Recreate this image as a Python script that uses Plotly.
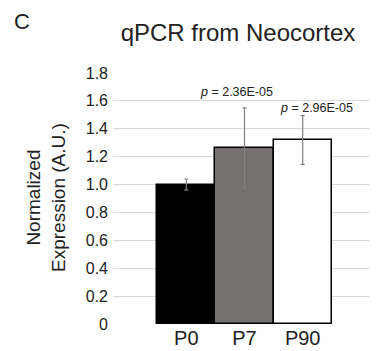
import plotly.graph_objects as go

categories = ["P0", "P7", "P90"]
values = [1.0, 1.26, 1.32]
errors = [0.04, 0.29, 0.175]
bar_colors = ["#000000", "#767171", "#ffffff"]
p_labels = ["<i>p</i> = 2.36E-05", "<i>p</i> = 2.96E-05"]
p_targets = ["P7", "P90"]
y_ticks = [0, 0.2, 0.4, 0.6, 0.8, 1.0, 1.2, 1.4, 1.6, 1.8]
y_ticktext = ["0", "0.2", "0.4", "0.6", "0.8", "1.0", "1.2", "1.4", "1.6", "1.8"]

font = "Liberation Sans, Arial, sans-serif"
txt = "#222222"

# page body adds an 8px offset; figure sized to fill the rest of the window
W, H = 369, 343
L, R, T, B = 105, 1, 65, 27
pw, ph = W - L - R, H - T - B

def px(x):  # window pixel -> paper x
    return (x - 8 - L) / pw

def py(y):  # window pixel -> paper y
    return (H - B - (y - 8)) / ph

fig = go.Figure()
fig.add_trace(go.Bar(
    x=categories, y=values,
    marker=dict(color=bar_colors, line=dict(color="#000000", width=1.5)),
    error_y=dict(type="data", array=errors, color="#808080", thickness=1.2, width=2),
    width=1.0,
))

annots = []
label_dx = [-0.137, 0.233]
label_dy = [0.114, 0.054]
for lab, cat, dx, dy in zip(p_labels, p_targets, label_dx, label_dy):
    i = categories.index(cat)
    annots.append(dict(x=i + dx, y=values[i] + errors[i] + dy,
                       text=lab, showarrow=False, xanchor="center", yanchor="middle",
                       font=dict(size=12.5, color=txt, family=font)))
annots.append(dict(x=px(22), y=py(22), xref="paper", yref="paper", text="C", showarrow=False,
                   xanchor="center", yanchor="middle",
                   font=dict(size=22, color=txt, family=font)))
annots.append(dict(x=px(46), y=py(198), xref="paper", yref="paper",
                   text="Normalized<br>Expression (A.U.)", showarrow=False, textangle=-90,
                   xanchor="center", yanchor="middle",
                   font=dict(size=19, color=txt, family=font)))

fig.update_layout(
    width=W, height=H,
    margin=dict(l=L, r=R, t=T, b=B, pad=0),
    plot_bgcolor="white", paper_bgcolor="white",
    showlegend=False,
    bargap=0,
    title=dict(text="qPCR from Neocortex", x=(238 - 8) / W, xanchor="center",
               y=1 - (33 - 8) / H, yanchor="middle",
               font=dict(size=24, color=txt, family=font)),
    font=dict(family=font, color=txt),
    xaxis=dict(range=[-1.26, 3.26], showgrid=False, zeroline=False, showline=False,
               tickfont=dict(size=20, color=txt), ticks="", ticklabelstandoff=0),
    yaxis=dict(range=[0, 1.8], tickvals=y_ticks, ticktext=y_ticktext,
               showgrid=True, gridcolor="#d9d9d9", gridwidth=1, zeroline=False, showline=False,
               tickfont=dict(size=16, color=txt), ticks="", ticklabelstandoff=4),
    annotations=annots,
)

fig.write_html("out.html")
